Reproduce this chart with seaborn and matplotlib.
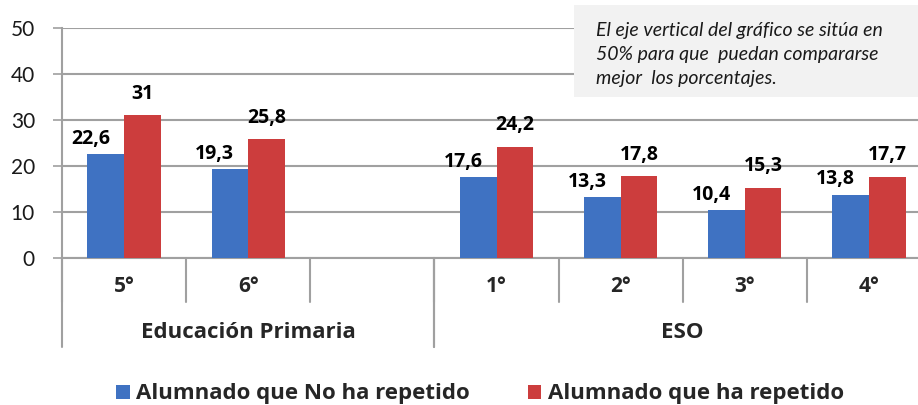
import numpy as np
import pandas as pd
import seaborn as sns
import matplotlib.pyplot as plt
from matplotlib.patches import Rectangle
from matplotlib.transforms import blended_transform_factory

# datos (el hueco vacío separa Primaria de ESO)
cursos = ['5°', '6°', '', '1°', '2°', '3°', '4°']
etapas = ['Educación Primaria', 'ESO']
etapa_cursos = [['5°', '6°', ''], ['1°', '2°', '3°', '4°']]
series = ['Alumnado que No ha repetido', 'Alumnado que ha repetido']
no_repetido = [22.6, 19.3, np.nan, 17.6, 13.3, 10.4, 13.8]
repetido = [31, 25.8, np.nan, 24.2, 17.8, 15.3, 17.7]
yticks = [0, 10, 20, 30, 40, 50]
nota = ('El eje vertical del gráfico se sitúa en\n'
        '50% para que  puedan compararse\n'
        'mejor  los porcentajes.')

colores = ['#3f72c2', '#cc3d3d']
gris = '#a0a0a0'
negrita = {'family': ['Open Sans', 'DejaVu Sans'], 'weight': 'bold'}

df = pd.DataFrame({'curso': cursos * 2,
                   'serie': [series[0]] * 7 + [series[1]] * 7,
                   'valor': no_repetido + repetido}).dropna()

sns.set_style('white')
plt.rcParams['font.family'] = ['Lato', 'DejaVu Sans']

fig = plt.figure(figsize=(9.18, 4.05), dpi=100)
ax = fig.add_axes([62 / 918, 1 - 258 / 405, 869 / 918, 230 / 405])

sns.barplot(data=df, x='curso', y='valor', hue='serie', order=cursos,
            hue_order=series, palette=colores, width=0.59, saturation=1,
            linewidth=0, ax=ax, zorder=3)

ax.set_xlim(-0.5, len(cursos) - 0.5)
ax.set_ylim(0, 50)
ax.set_yticks(yticks)
ax.yaxis.grid(True, color=gris, lw=1.5, zorder=0)
ax.set_axisbelow(True)
ax.tick_params(axis='y', length=6.5, width=1.2, color=gris, labelsize=15,
               pad=13, labelcolor='#1a1a1a', left=True)
ax.set_xticks([])
ax.set_xlabel('')
ax.set_ylabel('')
for s in ['top', 'right']:
    ax.spines[s].set_visible(False)
for s in ['left', 'bottom']:
    ax.spines[s].set_color(gris)
    ax.spines[s].set_linewidth(1.5)

# etiquetas de valor
desplaz = [(-11, 11), (0, 15.5)]
for cont, (dx, dy) in zip(ax.containers, desplaz):
    for bar in cont:
        v = bar.get_height()
        if np.isnan(v):
            continue
        ax.annotate(f'{v:g}'.replace('.', ','),
                    xy=(bar.get_x() + bar.get_width() / 2, v),
                    xytext=(dx, dy), textcoords='offset points',
                    ha='center', va='center', fontsize=14,
                    color='black', **negrita)

# eje de categorías en dos niveles
tr = blended_transform_factory(ax.transData, ax.transAxes)
y1 = -44 / 230
y2 = -89 / 230
for b in np.arange(-0.5, len(cursos)):
    ax.plot([b, b], [0, y1], color=gris, lw=1.5, transform=tr, clip_on=False)
for i, c in enumerate(cursos):
    ax.text(i, -29 / 230, c, transform=tr, ha='center', va='center',
            fontsize=15, **negrita)
inicio = 0
for etapa, grupo in zip(etapas, etapa_cursos):
    fin = inicio + len(grupo)
    ax.plot([inicio - 0.5, inicio - 0.5], [0, y2], color=gris, lw=1.5,
            transform=tr, clip_on=False)
    ax.plot([fin - 0.5, fin - 0.5], [0, y2], color=gris, lw=1.5,
            transform=tr, clip_on=False)
    ax.text((inicio + fin - 1) / 2, -74 / 230, etapa, transform=tr,
            ha='center', va='center', fontsize=16, **negrita)
    inicio = fin

sns.move_legend(ax, 'center', bbox_to_anchor=(480 / 918, 1 - 394 / 405),
                bbox_transform=fig.transFigure, ncol=2, title=None,
                frameon=False, prop={**negrita, 'size': 16},
                handlelength=0.6, handleheight=0.6, handletextpad=0.3,
                columnspacing=2.6)

# recuadro de nota
fig.add_artist(Rectangle((574 / 918, 1 - 97 / 405), 0.4, 92 / 405,
                         transform=fig.transFigure, facecolor='#f2f2f2',
                         edgecolor='none', zorder=5))
fig.text(596 / 918, 1 - 22 / 405, nota, fontsize=14, style='italic',
         va='top', ha='left', linespacing=1.5, color='#1a1a1a', zorder=6)

plt.savefig('out.png', dpi=100)
